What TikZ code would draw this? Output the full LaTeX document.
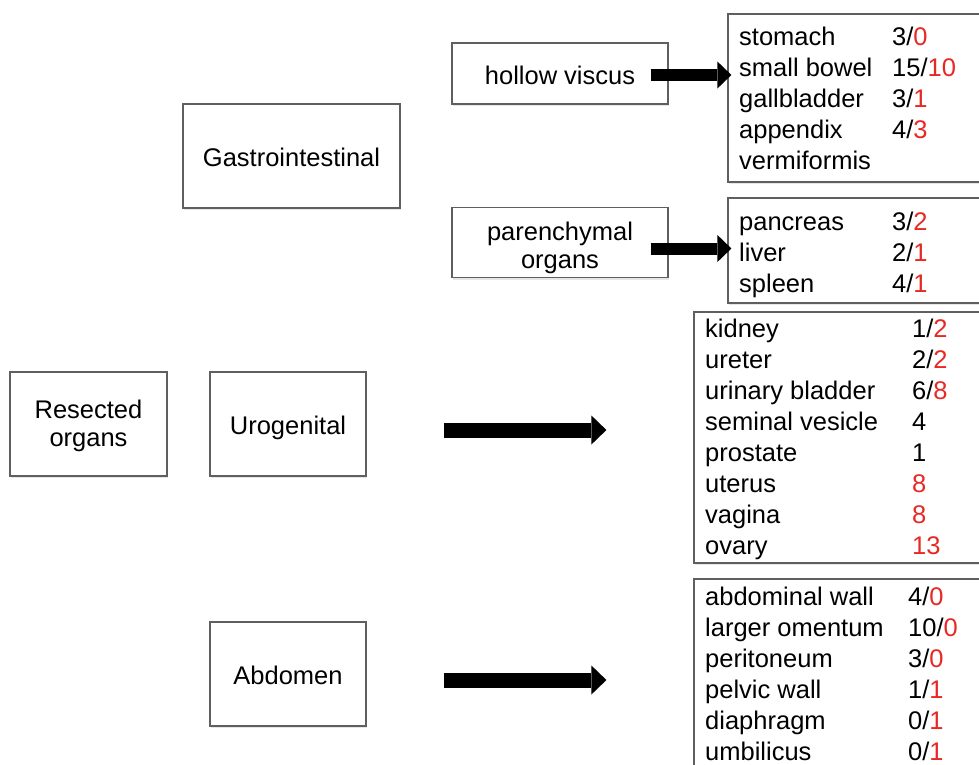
\documentclass[tikz,border=0pt]{standalone}
\usepackage{fontspec}
\setmainfont{Liberation Sans}
\usetikzlibrary{arrows.meta,calc,shadows}
\definecolor{redc}{RGB}{232,40,36}
\definecolor{boxc}{RGB}{95,95,95}
\newcommand\rd[1]{\textcolor{redc}{#1}}
\newcommand\twolines[2]{\begin{tabular}[b]{@{}c@{}}#1\\#2\end{tabular}}
\begin{document}
\begin{tikzpicture}[x=1pt,y=-1pt,
  font=\fontsize{25.5}{31}\selectfont,
  box/.style={draw=boxc, line width=1.2pt, fill=white, inner sep=0pt,
    font=\fontsize{25.5}{28}\selectfont, text height=21pt, text depth=0pt,
    drop shadow={shadow xshift=1pt, shadow yshift=-2pt, opacity=0.2}},
  listbox/.style={draw=boxc, line width=1.2pt, fill=white, inner sep=0pt,
    drop shadow={shadow xshift=1pt, shadow yshift=-2pt, opacity=0.2}},
  listtxt/.style={inner sep=0pt, anchor=base west},
  fatarrow/.style={line width=15pt, -{Triangle[length=15pt,width=29pt,line width=0pt]}},
  thinarrow/.style={line width=12pt, -{Triangle[length=14pt,width=27pt,line width=0pt]}}]
\useasboundingbox (0,0) rectangle (979,764);
\clip (0,0) rectangle (979,764);

% left boxes
\node[box, minimum width=217pt, minimum height=104pt] (gi) at (291.5,156) {Gastrointestinal};
\node[box, minimum width=216pt, minimum height=61pt] (hollow) at (560,73.5) {hollow viscus};
\node[box, minimum width=216pt, minimum height=70pt, text height=51pt] (par) at (560,242.5) {\twolines{parenchymal}{organs}};
\node[box, minimum width=157pt, minimum height=104pt, text height=44pt] (res) at (88.5,424) {\twolines{Resected}{organs}};
\node[box, minimum width=156pt, minimum height=104pt] (uro) at (288,424) {Urogenital};
\node[box, minimum width=156pt, minimum height=104pt] (abd) at (288,674) {Abdomen};

% list boxes
\node[listbox, minimum width=262pt, minimum height=168pt] (list1) at (859,98) {};
\node[listbox, minimum width=262pt, minimum height=105pt] (list2) at (859,250.5) {};
\node[listbox, minimum width=296pt, minimum height=251pt] (list3) at (842,437.5) {};
\node[listbox, minimum width=296pt, minimum height=201pt] (list4) at (842,679.5) {};

% list texts
\node[listtxt] (t1) at (739,45.5) {\begin{tabular}[t]{@{}p{153pt}@{}l@{}}
stomach & 3/\rd{0}\\
small bowel & 15/\rd{10}\\
gallbladder & 3/\rd{1}\\
appendix & 4/\rd{3}\\
vermiformis & \end{tabular}};
\node[listtxt] (t2) at (739,230.5) {\begin{tabular}[t]{@{}p{153pt}@{}l@{}}
pancreas & 3/\rd{2}\\
liver & 2/\rd{1}\\
spleen & 4/\rd{1}\end{tabular}};
\node[listtxt] (t3) at (705,337.5) {\begin{tabular}[t]{@{}p{207pt}@{}l@{}}
kidney & 1/\rd{2}\\
ureter & 2/\rd{2}\\
urinary bladder & 6/\rd{8}\\
seminal vesicle & 4\\
prostate & 1\\
uterus & \rd{8}\\
vagina & \rd{8}\\
ovary & \rd{13}\end{tabular}};
\node[listtxt] (t4) at (705,605.5) {\begin{tabular}[t]{@{}p{203pt}@{}l@{}}
abdominal wall & 4/\rd{0}\\
larger omentum & 10/\rd{0}\\
peritoneum & 3/\rd{0}\\
pelvic wall & 1/\rd{1}\\
diaphragm & 0/\rd{1}\\
umbilicus & 0/\rd{1}\end{tabular}};

% arrows
\coordinate (a1) at ($(hollow.east)+(-18,1.5)$);
\coordinate (a2) at ($(par.east)+(-18,6)$);
\coordinate (a3) at ($(uro.east)+(77,6)$);
\coordinate (a4) at ($(abd.east)+(77,6)$);
\draw[thinarrow] (a1) -- ($(a1 -| list1.west)+(4,0)$);
\draw[thinarrow] (a2) -- ($(a2 -| list2.west)+(4,0)$);
\draw[fatarrow] (a3) -- ($(a3 -| list3.west)+(-87,0)$);
\draw[fatarrow] (a4) -- ($(a4 -| list4.west)+(-87,0)$);
\end{tikzpicture}
\end{document}
